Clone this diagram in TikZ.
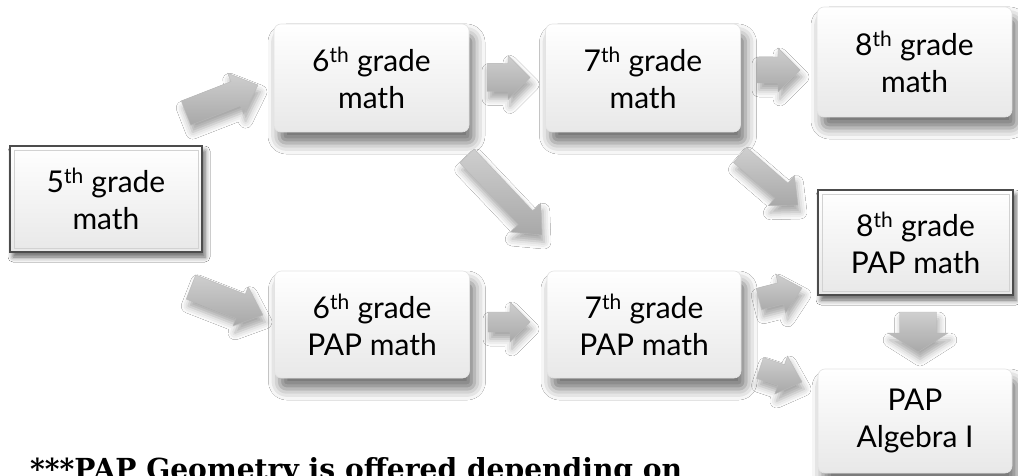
\documentclass[tikz,border=0pt]{standalone}
\usepackage{fontspec}
\setmainfont{Lato}
\newfontfamily\slabfont{DejaVu Serif}
\usetikzlibrary{calc,shadows.blur}
\newcommand\garw[6]{%
  \coordinate (#6h) at ($(#2)!#5!(#1)$);
  \path[garrow] ($(#1)!#3!90:(#2)$) -- ($(#6h)!#3!90:(#2)$) -- ($(#6h)!#4!90:(#2)$) -- (#2)
    -- ($(#6h)!#4!-90:(#2)$) -- ($(#6h)!#3!-90:(#2)$) -- ($(#1)!#3!-90:(#2)$) -- cycle;}
\begin{document}
\begin{tikzpicture}[x=1pt,y=-1pt,
  box/.style={rounded corners=7pt, minimum width=195pt, minimum height=108pt,
    top color=white, bottom color=gray!18, draw=gray!22, line width=0.6pt,
    blur shadow={shadow xshift=5pt,shadow yshift=-11pt,shadow blur radius=11pt,shadow opacity=55},
    align=center, font=\fontsize{30}{37}\selectfont, text=black, inner sep=0pt},
  sqbox/.style={box, rounded corners=0pt, draw=black!70, line width=1.8pt,
    blur shadow={shadow xshift=3pt,shadow yshift=-5pt,shadow blur radius=5pt,shadow opacity=35}},
  bevel/.style={draw=gray!35, line width=0.6pt},
  garrow/.style={top color=gray!38, bottom color=gray!68, draw=gray!55, line width=0.4pt,
    blur shadow={shadow xshift=2pt,shadow yshift=-7pt,shadow blur radius=7pt,shadow opacity=35}},
  note/.style={anchor=base west, inner sep=0pt, font=\slabfont\bfseries, text=black}
]
\useasboundingbox (0,0) rectangle (1018,476);
\clip (0,0) rectangle (1018,476);
\fill[white] (0,0) rectangle (1018,476);

% boxes
\node[sqbox, minimum width=192pt, minimum height=106pt] (g5) at (106,199) {5\textsuperscript{th} grade\\math};
\draw[bevel] ($(g5.north west)+(5,5)$) rectangle ($(g5.south east)+(-5,-5)$);
\node[box] (g6) at (371.5,78) {6\textsuperscript{th} grade\\math};
\node[box] (g7) at (643,78) {7\textsuperscript{th} grade\\math};
\node[box, minimum height=110pt] (g8) at (914.5,62) {8\textsuperscript{th} grade\\math};
\node[sqbox, minimum width=195pt, minimum height=105pt] (p8) at (915.5,242.5) {8\textsuperscript{th} grade\\PAP math};
\draw[bevel] ($(p8.north west)+(5,5)$) rectangle ($(p8.south east)+(-5,-5)$);
\node[box, minimum height=107pt] (p6) at (372,324.5) {6\textsuperscript{th} grade\\PAP math};
\node[box, minimum width=194pt, minimum height=107pt] (p7) at (644,324.5) {7\textsuperscript{th} grade\\PAP math};
\node[box, minimum width=194pt, minimum height=104pt] (alg) at (915,421) {PAP\\Algebra I};

% arrows
\coordinate (a1s) at (186,113);  \coordinate (a1e) at (258,85);
\coordinate (a2s) at (487,77.5); \coordinate (a2e) at (530,77.5);
\coordinate (a3s) at (757,70);   \coordinate (a3e) at (800,70);
\coordinate (a4s) at (467,156);  \coordinate (a4e) at (542,235);
\coordinate (a5s) at (740,155);  \coordinate (a5e) at (798,205);
\coordinate (a6s) at (191,287);  \coordinate (a6e) at (263,315);
\coordinate (a7s) at (488,322);  \coordinate (a7e) at (530,322);
\coordinate (a8s) at (759,299);  \coordinate (a8e) at (802,288);
\coordinate (a9s) at (760,368);  \coordinate (a9e) at (802,382);
\coordinate (a10s) at (918,312); \coordinate (a10e) at (918,352);
\garw{a1s}{a1e}{13pt}{22pt}{24pt}{a1}
\garw{a2s}{a2e}{14pt}{22pt}{22pt}{a2}
\garw{a3s}{a3e}{13pt}{22pt}{22pt}{a3}
\garw{a4s}{a4e}{10pt}{21pt}{24pt}{a4}
\garw{a5s}{a5e}{10pt}{20pt}{22pt}{a5}
\garw{a6s}{a6e}{13pt}{21pt}{24pt}{a6}
\garw{a7s}{a7e}{10pt}{20pt}{20pt}{a7}
\garw{a8s}{a8e}{11pt}{20pt}{22pt}{a8}
\garw{a9s}{a9e}{11pt}{20pt}{22pt}{a9}
\garw{a10s}{a10e}{18.5pt}{30pt}{19pt}{a10}

% note
\node[note] (nt) at (30,479) {\resizebox{652pt}{22pt}{***PAP Geometry is offered depending on}};
\end{tikzpicture}
\end{document}
